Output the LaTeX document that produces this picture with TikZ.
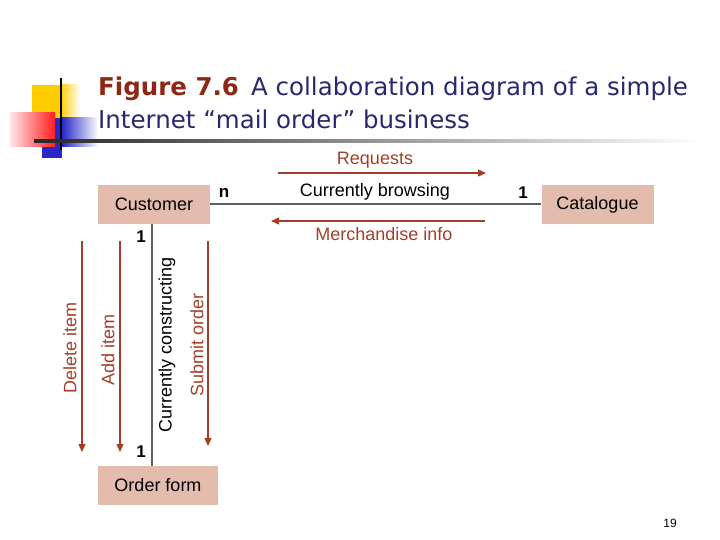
\documentclass[tikz,border=0pt]{standalone}
\usepackage{fontspec}
\setmainfont{Liberation Sans}
\newfontfamily\titlefont{DejaVu Sans}
\usetikzlibrary{arrows.meta}
\definecolor{boxfill}{RGB}{227,188,174}
\definecolor{msgred}{RGB}{165,62,40}
\definecolor{linegray}{RGB}{95,95,95}
\definecolor{titlered}{RGB}{140,40,20}
\definecolor{titleblue}{RGB}{40,40,110}
\definecolor{logoyellow}{RGB}{255,204,0}
\definecolor{logored}{RGB}{255,30,30}
\definecolor{logoblue}{RGB}{40,40,200}

\begin{document}
\begin{tikzpicture}[x=1pt,y=-1pt,
  classbox/.style={fill=boxfill,minimum width=112pt,minimum height=39pt,inner sep=0pt,font=\fontsize{18}{21}\selectfont},
  assoc/.style={draw=linegray,line width=2pt},
  msg/.style={draw=msgred,line width=1.3pt,-{Triangle[length=8pt,width=7pt]}},
  msglabel/.style={text=msgred,font=\fontsize{18}{21}\selectfont},
  mult/.style={font=\bfseries\fontsize{17}{20}\selectfont},
  titleline/.style={anchor=base west,inner sep=0pt,font=\titlefont\fontsize{24.5}{29}\selectfont}]
\useasboundingbox (0,0) rectangle (720,540);
% logo
\fill[logoyellow] (32,85) rectangle (60,118);
\shade[left color=logoyellow,right color=white] (60,85) rectangle (80,118);
\fill[logoblue] (42,118) rectangle (62,158);
\shade[left color=logoblue,right color=white] (62,118) rectangle (98,147);
\shade[left color=red!10,right color=logored] (10,113) rectangle (55,147);
\draw[line width=2.5pt] (61,78) -- (61,150);
\shade[left color=black!85,right color=white] (34,140) rectangle (700,142.5);
% title
\node[titleline] (t1) at (98,96) {\textcolor{titlered}{\bfseries Figure 7.6}\enspace\textcolor{titleblue}{A collaboration diagram of a simple}};
\node[titleline] (t2) at (98,129) {\textcolor{titleblue}{Internet \textquotedblleft mail order\textquotedblright\ business}};
% classes
\node[classbox] (cust) at (154,204.5) {Customer};
\node[classbox] (cat) at (597.5,204.5) {Catalogue};
\node[classbox,minimum width=120pt] (ord) at (158,485.5) {Order form};
\coordinate (v) at (152,0);
\draw[assoc] (cust) -- (cat);
\draw[assoc] (cust.south -| v) -- (ord.north -| v);
\node[font=\fontsize{18}{21}\selectfont] (browse) at (375,192) {Currently browsing};
\node[rotate=90,font=\fontsize{18}{21}\selectfont] (constr) at (167,345) {Currently constructing};
\node[mult] (m1) at (224,193) {n};
\node[mult] (m2) at (523,193) {1};
\node[mult] (m3) at (141,237) {1};
\node[mult] (m4) at (141,452) {1};
% messages
\coordinate (req1) at (278,173);
\coordinate (req2) at (486,173);
\draw[msg] (req1) -- (req2);
\node[msglabel] (req) at (375,160) {Requests};
\coordinate (mer1) at (485,221);
\coordinate (mer2) at (271,221);
\draw[msg] (mer1) -- (mer2);
\node[msglabel] (mer) at (384,234) {Merchandise info};
\coordinate (del1) at (82,241);
\coordinate (del2) at (82,452);
\draw[msg] (del1) -- (del2);
\node[msglabel,rotate=90] (del) at (70,348) {Delete item};
\coordinate (add1) at (120,241);
\coordinate (add2) at (120,452);
\draw[msg] (add1) -- (add2);
\node[msglabel,rotate=90] (add) at (108,350) {Add item};
\coordinate (sub1) at (208,241);
\coordinate (sub2) at (208,446);
\draw[msg] (sub1) -- (sub2);
\node[msglabel,rotate=90] (sub) at (197,345) {Submit order};
% page number
\node[font=\fontsize{12}{14}\selectfont] (pg) at (670,523) {19};
\end{tikzpicture}
\end{document}
